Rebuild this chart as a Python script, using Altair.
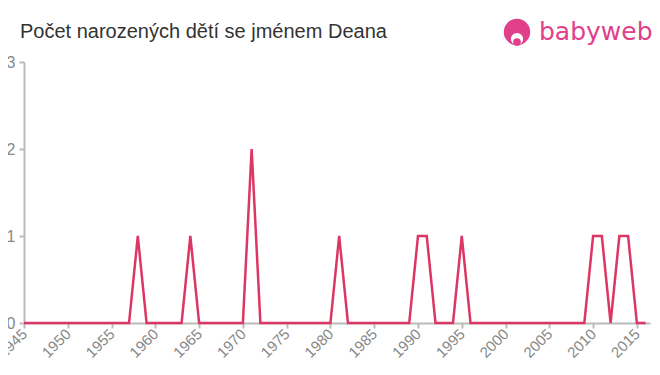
import altair as alt
import pandas as pd

years = list(range(1945, 2017))
counts = [
    0, 0, 0, 0, 0,  # 1945-1949
    0, 0, 0, 0, 0,  # 1950-1954
    0, 0, 0, 1, 0,  # 1955-1959
    0, 0, 0, 0, 1,  # 1960-1964
    0, 0, 0, 0, 0,  # 1965-1969
    0, 2, 0, 0, 0,  # 1970-1974
    0, 0, 0, 0, 0,  # 1975-1979
    0, 1, 0, 0, 0,  # 1980-1984
    0, 0, 0, 0, 0,  # 1985-1989
    1, 1, 0, 0, 0,  # 1990-1994
    1, 0, 0, 0, 0,  # 1995-1999
    0, 0, 0, 0, 0,  # 2000-2004
    0, 0, 0, 0, 0,  # 2005-2009
    1, 1, 0, 1, 1,  # 2010-2014
    0, 0,           # 2015-2016
]
x_ticks = list(range(1945, 2016, 5))
y_ticks = [0, 1, 2, 3]
title_text = "Počet narozených dětí se jménem Deana"
logo_text = "babyweb"

df = pd.DataFrame({"year": years, "count": counts})
one = pd.DataFrame({"k": [0]})

PINK = "#dc3764"
LOGO = "#e0408a"
GREY = "#888888"
AXIS = "#bbbbbb"

line = alt.Chart(df).mark_line(color=PINK, strokeWidth=2.5, strokeJoin="miter").encode(
    x=alt.X("year:Q",
            scale=alt.Scale(domain=[1945, 2016.5], nice=False, zero=False),
            axis=alt.Axis(values=x_ticks, format="d", labelAngle=315, title=None,
                          labelFontSize=15, labelAlign="right", labelBaseline="middle",
                          labelPadding=3, labelOverlap=False, labelFont="Liberation Sans")),
    y=alt.Y("count:Q",
            scale=alt.Scale(domain=[0, 3], nice=False),
            axis=alt.Axis(values=y_ticks, format="d", title=None, labelFontSize=16,
                          labelPadding=4, labelFont="Liberation Sans")),
)

title = alt.Chart(one).mark_text(text=title_text, color="#333333", fontSize=20,
                                 font="Liberation Sans", align="left",
                                 baseline="alphabetic").encode(
    x=alt.value(-4), y=alt.value(-24))

logo_circle = alt.Chart(one).mark_point(filled=True, shape="circle", color=LOGO, opacity=1, size=700).encode(
    x=alt.value(493), y=alt.value(-30))
logo_face = alt.Chart(one).mark_point(filled=True, shape="circle", color="white", opacity=1, size=150).encode(
    x=alt.value(493), y=alt.value(-23))
logo_dot = alt.Chart(one).mark_point(filled=True, shape="circle", color=LOGO, opacity=1, size=60).encode(
    x=alt.value(493), y=alt.value(-20))
logo_word = alt.Chart(one).mark_text(text=logo_text, color=LOGO, fontSize=25, font="DejaVu Sans",
                                     align="left", baseline="alphabetic").encode(
    x=alt.value(515), y=alt.value(-22))

chart = alt.layer(line, title, logo_circle, logo_face, logo_dot, logo_word).properties(
    width=626, height=261,
    autosize=alt.AutoSizeParams(type="none"),
    padding={"left": 16, "top": 54, "right": 2, "bottom": 44},
).configure_view(stroke=None).configure_axis(
    grid=False, domainColor=AXIS, domainWidth=2, tickColor=AXIS, tickWidth=2,
    tickSize=5, labelColor=GREY,
)

chart.save("out.html", embed_options={"renderer": "svg", "actions": False})
